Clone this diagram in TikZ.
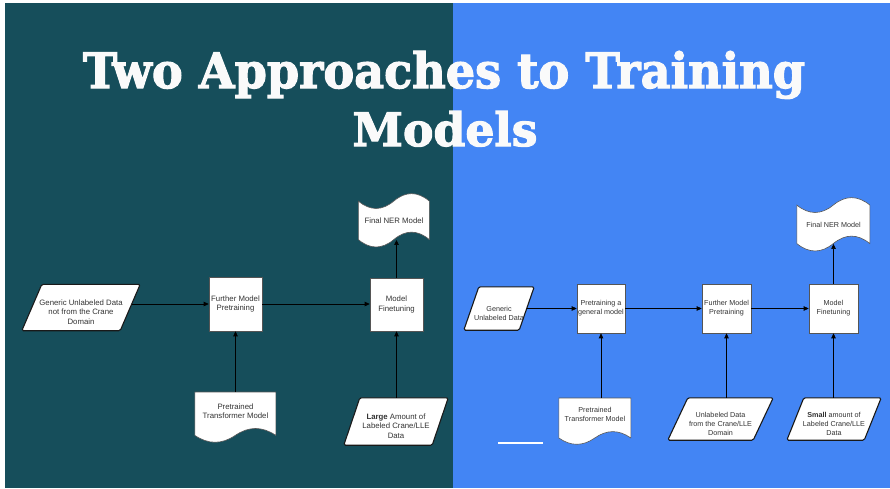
\documentclass[tikz,border=0pt]{standalone}
\usepackage{graphicx}
\usepackage{fontspec}
\setmainfont{Liberation Sans}
\newfontfamily\titlefont{DejaVu Serif}[BoldFeatures={FakeBold=2.5}]
\usetikzlibrary{arrows.meta,calc}
\pgfdeclarelayer{panel}
\pgfdeclarelayer{shapes}
\pgfsetlayers{panel,shapes,main}
\definecolor{panelteal}{HTML}{164E5B}
\definecolor{panelblue}{HTML}{4385F4}
\definecolor{txtgray}{HTML}{333333}
\definecolor{boxline}{HTML}{555555}
\newcommand\dn{\rule{0pt}{15pt}}

\tikzset{
  lfont/.style={font=\fontsize{7.8}{9.6}\selectfont},
  rfont/.style={font=\fontsize{7.2}{9}\selectfont},
  proc/.style={draw=boxline, line width=0.6pt, fill=white, inner sep=0pt, align=center, text=txtgray},
  plain/.style={inner sep=0pt, align=center, text=txtgray},
  datafr/.style={draw=black!90, line width=1.1pt, fill=white, rounded corners=1.5pt},
  shapefr/.style={draw=boxline, line width=0.6pt, fill=white},
  arr/.style={draw=black, line width=0.7pt, -{Triangle[length=5pt,width=4.5pt]}},
  titletext/.style={text=white!98!black, inner sep=0pt, anchor=base},
}

\newcommand\datashape[2]{%
 \begin{pgfonlayer}{shapes}
  \draw[datafr] ([xshift=#2]#1.north west) -- (#1.north east) -- ([xshift=-#2]#1.south east) -- (#1.south west) -- cycle;
 \end{pgfonlayer}}

\newcommand\tapeshape[3]{%
 \pgfmathsetmacro\tw{#2}\pgfmathsetmacro\th{#3}%
 \pgfmathsetmacro\ta{0.15*\th}\pgfmathsetmacro\tb{0.42*\th}\pgfmathsetmacro\tc{-0.12*\th}%
 \pgfmathsetmacro\tu{\ta+2/3*(\tb-\ta)}\pgfmathsetmacro\tv{\ta+2/3*(\tc-\ta)}%
 \begin{pgfonlayer}{shapes}
 \begin{scope}[shift={([yshift=\ta pt]#1.north west)}]
  \draw[shapefr] (0,\ta) .. controls ({\tw/6},\tu) and ({\tw/3},\tu) .. ({\tw/2},\ta)
   .. controls ({2*\tw/3},\tv) and ({5*\tw/6},\tv) .. (\tw,\ta)
   -- (\tw,{\th-\ta})
   .. controls ({5*\tw/6},{\th-\tu}) and ({2*\tw/3},{\th-\tu}) .. ({\tw/2},{\th-\ta})
   .. controls ({\tw/3},{\th-\tv}) and ({\tw/6},{\th-\tv}) .. (0,{\th-\ta}) -- cycle;
 \end{scope}
 \end{pgfonlayer}}

\newcommand\docshape[3]{%
 \pgfmathsetmacro\tw{#2}\pgfmathsetmacro\th{#3}%
 \pgfmathsetmacro\ta{0.15*\th}\pgfmathsetmacro\tb{0.42*\th}\pgfmathsetmacro\tc{-0.12*\th}%
 \pgfmathsetmacro\tu{\ta+2/3*(\tb-\ta)}\pgfmathsetmacro\tv{\ta+2/3*(\tc-\ta)}%
 \begin{pgfonlayer}{shapes}
 \begin{scope}[shift={(#1.north west)}]
  \draw[shapefr] (0,0) -- (\tw,0) -- (\tw,{\th-\ta})
   .. controls ({5*\tw/6},{\th-\tu}) and ({2*\tw/3},{\th-\tu}) .. ({\tw/2},{\th-\ta})
   .. controls ({\tw/3},{\th-\tv}) and ({\tw/6},{\th-\tv}) .. (0,{\th-\ta}) -- cycle;
 \end{scope}
 \end{pgfonlayer}}

\begin{document}
\begin{tikzpicture}[x=1pt,y=-1pt]
\begin{pgfonlayer}{panel}
\fill[white] (0,0) rectangle (890,488);
\fill[panelteal] (5,3) rectangle (453,488);
\fill[panelblue] (453,3) rectangle (890,488);
\end{pgfonlayer}
\useasboundingbox (0,0) rectangle (890,488);

% title
\node[titletext] (title1) at (444,88) {\resizebox{722pt}{37pt}{\titlefont\bfseries Two Approaches to Training}};
\node[titletext] (title2) at (445,146) {\resizebox{185pt}{35pt}{\titlefont\bfseries Models}};

% left diagram
\node[plain, lfont, minimum width=118pt, minimum height=46pt] (Lin) at (81,307.5) {\dn Generic Unlabeled Data\\not from the Crane\\Domain};
\node[proc, lfont, minimum width=53pt, minimum height=54pt] (Lfmp) at (235.5,304) {Further Model\\Pretraining};
\node[proc, lfont, minimum width=53pt, minimum height=53pt] (Lmf) at (396.5,304.5) {Model\\Finetuning};
\node[plain, lfont, minimum width=71pt, minimum height=38.5pt] (Lfin) at (394,220.5) {Final NER Model};
\node[plain, lfont, minimum width=81pt, minimum height=38pt, anchor=north] (Lptm) at (235.5,392) {Pretrained\\Transformer Model};
\node[plain, lfont, minimum width=104pt, minimum height=47pt] (Llab) at (396,421.5) {\dn\textbf{Large} Amount of\\Labeled Crane/LLE\\Data};

\datashape{Lin}{20pt}
\datashape{Llab}{16pt}
\tapeshape{Lfin}{71}{55}
\docshape{Lptm}{81}{51}

\coordinate (Linout) at ($(Lin.east |- Lfmp.west)+(-8pt,0pt)$);
\draw[arr] (Linout) -- (Lfmp.west);
\draw[arr] (Lfmp.east) -- (Lfmp.east -| Lmf.west);
\draw[arr] (Lmf.north) -- (Lmf.north |- Lfin.south);
\draw[arr] (Lptm.north) -- (Lfmp.south);
\draw[arr] (Lmf.south |- Llab.north) -- (Lmf.south);

% right diagram
\node[plain, rfont, minimum width=70pt, minimum height=43pt] (Rin) at (499,308.5) {\dn Generic\\Unlabeled Data};
\node[proc, rfont, minimum width=48pt, minimum height=49pt] (Rpga) at (601,308.5) {Pretraining a\\general model};
\node[proc, rfont, minimum width=49pt, minimum height=49pt] (Rfmp) at (726.5,308.5) {Further Model\\Pretraining};
\node[proc, rfont, minimum width=49pt, minimum height=49pt] (Rmf) at (833.5,308.5) {Model\\Finetuning};
\node[plain, rfont, minimum width=73pt, minimum height=38.5pt] (Rfin) at (833.5,224.5) {Final NER Model};
\node[plain, rfont, minimum width=72pt, minimum height=33pt, anchor=north] (Rptm) at (595,398) {Pretrained\\Transformer Model};
\node[plain, rfont, minimum width=105pt, minimum height=42pt] (Runl) at (720.5,419) {\dn Unlabeled Data\\from the Crane/LLE\\Domain};
\node[plain, rfont, minimum width=94pt, minimum height=42pt] (Rsmall) at (834,419) {\dn\textbf{Small} amount of\\Labeled Crane/LLE\\Data};

\datashape{Rin}{15pt}
\datashape{Runl}{20pt}
\datashape{Rsmall}{17pt}
\tapeshape{Rfin}{73}{55}
\docshape{Rptm}{72}{47}

\coordinate (Rinout) at ($(Rin.east |- Rpga.west)+(-7pt,0pt)$);
\draw[arr] (Rinout) -- (Rpga.west);
\draw[arr] (Rpga.east) -- (Rfmp.west);
\draw[arr] (Rfmp.east) -- (Rmf.west);
\draw[arr] (Rmf.north) -- (Rmf.north |- Rfin.south);
\draw[arr] (Rpga.south |- Rptm.north) -- (Rpga.south);
\draw[arr] (Rfmp.south |- Runl.north) -- (Rfmp.south);
\draw[arr] (Rmf.south |- Rsmall.north) -- (Rmf.south);

\draw[white, line width=1.6pt] (498,443) -- (543,443);
\end{tikzpicture}
\end{document}
